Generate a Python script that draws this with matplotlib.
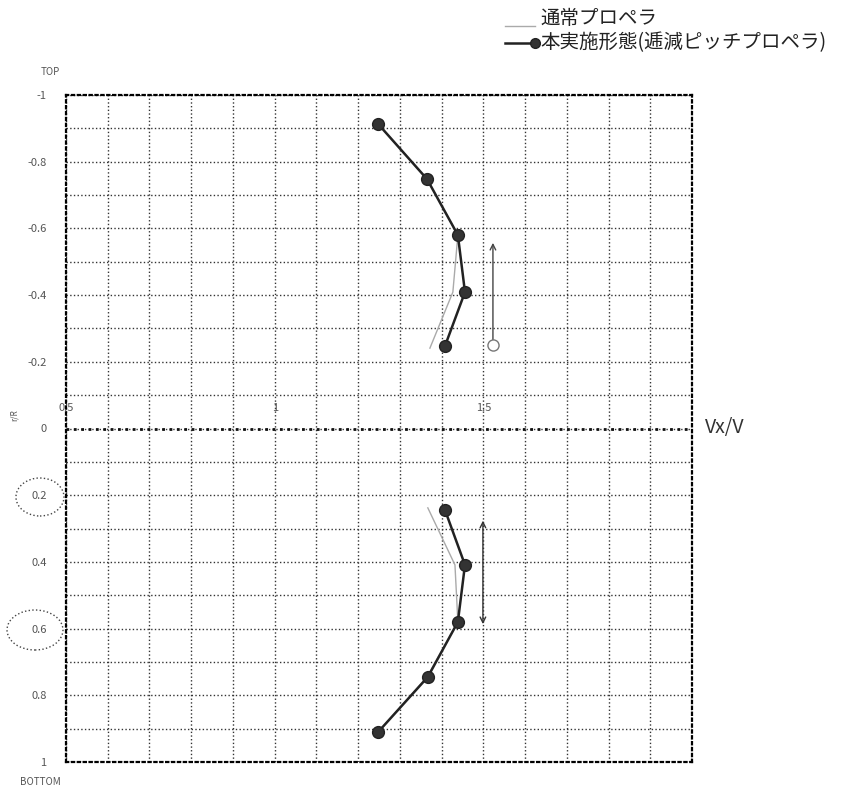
import numpy as np
import matplotlib.pyplot as plt
from matplotlib.lines import Line2D
from matplotlib.patches import Ellipse

plt.rcParams['font.family'] = ['Noto Sans CJK JP', 'DejaVu Sans']

# data (Vx/V against radial position, TOP negative)
vx_new_top = [1.248, 1.365, 1.439, 1.456, 1.408]
r_new_top = [-0.913, -0.748, -0.580, -0.409, -0.247]
vx_std_top = [1.248, 1.365, 1.439, 1.427, 1.372]
r_std_top = [-0.913, -0.748, -0.580, -0.409, -0.241]

vx_new_bot = [1.408, 1.456, 1.439, 1.367, 1.248]
r_new_bot = [0.244, 0.409, 0.580, 0.745, 0.910]
vx_std_bot = [1.367, 1.432, 1.439, 1.365, 1.248]
r_std_bot = [0.238, 0.409, 0.580, 0.745, 0.910]

# range arrows
arrow_top_x = 1.523
arrow_top_r = [-0.25, -0.565]
arrow_bot_x = 1.499
arrow_bot_r = [0.268, 0.595]

x_labels = [0.5, 1.0, 1.5]
x_label_txt = ['0.5', '1', '1.5']
y_ticks = [-1, -0.8, -0.6, -0.4, -0.2, 0, 0.2, 0.4, 0.6, 0.8, 1]
y_tick_txt = ['-1', '-0.8', '-0.6', '-0.4', '-0.2', '0', '0.2', '0.4', '0.6', '0.8', '1']

legend_std = '通常プロペラ'
legend_new = '本実施形態(逓減ピッチプロペラ)'

W, H = 845, 796
fig = plt.figure(figsize=(W/100, H/100), dpi=100)
ax = fig.add_axes([66/W, 1-762/H, 626/W, 667/H])
ax.set_xlim(0.5, 2.0)
ax.set_ylim(1, -1)

# grid
ax.set_xticks(np.arange(0.5, 2.001, 0.1))
ax.set_xticklabels([])
ax.set_yticks(y_ticks)
ax.set_yticklabels(y_tick_txt, fontsize=8, color='#555')
ax.set_yticks(np.arange(-1, 1.001, 0.1), minor=True)
ax.tick_params(which='both', length=0, pad=14)
ax.grid(True, which='both', linestyle=':', color='#333', linewidth=1.0)
for s in ax.spines.values():
    s.set_linestyle(':')
    s.set_linewidth(1.6)
ax.axhline(0, color='#111', linestyle=':', linewidth=2.0)

# curves
ax.plot(vx_std_top, r_std_top, color='#aaa', linewidth=1.0, zorder=3)
ax.plot(vx_std_bot, r_std_bot, color='#aaa', linewidth=1.0, zorder=3)
ax.plot(vx_new_top, r_new_top, color='#222', linewidth=1.8, marker='o',
        markersize=8.5, markerfacecolor='#333', zorder=4)
ax.plot(vx_new_bot, r_new_bot, color='#222', linewidth=1.8, marker='o',
        markersize=8.5, markerfacecolor='#333', zorder=4)

# arrows
ax.annotate('', xy=(arrow_top_x, arrow_top_r[1]), xytext=(arrow_top_x, arrow_top_r[0]),
            arrowprops=dict(arrowstyle='->', color='#444', lw=1.0))
ax.plot([arrow_top_x], [arrow_top_r[0]], marker='o', markersize=8,
        markerfacecolor='white', markeredgecolor='#777', zorder=5)
ax.annotate('', xy=(arrow_bot_x, arrow_bot_r[1]), xytext=(arrow_bot_x, arrow_bot_r[0]),
            arrowprops=dict(arrowstyle='<->', color='#333', lw=1.0))

# x labels along the middle
for xv, t in zip(x_labels, x_label_txt):
    ax.text(xv, -0.06, t, fontsize=8, color='#555', ha='center', va='center')

fig.text(705/W, 1-428/H, 'Vx/V', fontsize=14, color='#333', va='center')
fig.text(50/W, 1-72/H, 'TOP', fontsize=7, color='#555', ha='center', va='center')
fig.text(40/W, 1-782/H, 'BOTTOM', fontsize=7, color='#555', ha='center', va='center')
fig.text(14/W, 1-415/H, 'r/R', fontsize=6, color='#555', rotation=90, ha='center', va='center')

# dotted circles round two of the labels
for cx, cy, ew, eh in [(40, 497, 48, 38), (35, 630, 56, 40)]:
    fig.add_artist(Ellipse((cx/W, 1-cy/H), ew/W, eh/H, fill=False,
                           linestyle=':', edgecolor='#444', linewidth=1.0))

# legend
fig.add_artist(Line2D([505/W, 535/W], [1-26/H, 1-26/H], color='#aaa', linewidth=1.0))
fig.text(540/W, 1-18/H, legend_std, fontsize=14, color='#222', va='center')
fig.add_artist(Line2D([505/W, 535/W], [1-43/H, 1-43/H], color='#222', linewidth=1.8,
                      marker='o', markersize=7, markevery=[1], markerfacecolor='#333'))
fig.text(540/W, 1-43/H, legend_new, fontsize=14, color='#222', va='center')

fig.savefig('out.png', dpi=100)
